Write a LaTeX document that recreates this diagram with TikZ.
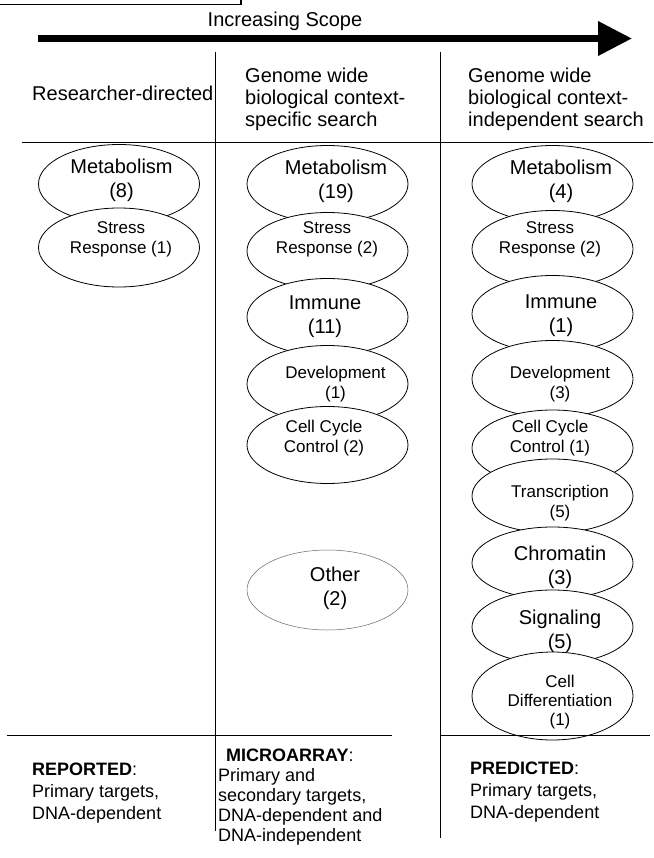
\documentclass[tikz,border=0pt]{standalone}
\usepackage{fontspec}
\setmainfont{Liberation Sans}
\usetikzlibrary{arrows.meta,shapes.geometric}
\begin{document}
\begin{tikzpicture}[x=1pt,y=-1pt,
  ell/.style={ellipse,draw,fill=white,line width=0.8pt,minimum width=161pt,minimum height=#1,inner sep=0pt},
  ell/.default=77pt,
  faint/.style={draw=black!60,line width=0.5pt},
  big/.style={font=\fontsize{20}{24}\selectfont,align=center,inner sep=0pt},
  small/.style={font=\fontsize{17}{20}\selectfont,align=center,inner sep=0pt},
  hdr/.style={font=\fontsize{20}{22}\selectfont,align=left,inner sep=0pt,anchor=west},
  foot/.style={font=\fontsize{18}{22}\selectfont,align=left,inner sep=0pt,anchor=west},
  rule/.style={line width=1pt}]
\useasboundingbox (0,0) rectangle (653,858);

% partial frame at top left
\coordinate (fa) at (-3,4.5);
\coordinate (fb) at (241,4.5);
\coordinate (fc) at (241,-3);
\draw[line width=1.5pt] (fa) -- (fb) -- (fc);

% scope arrow
\node[font=\fontsize{20}{22}\selectfont,inner sep=0pt,anchor=base] (scope) at (285,27) {Increasing Scope};
\coordinate (as) at (38,38.5);
\coordinate (ae) at (632,38.5);
\draw[line width=7pt,-{Triangle[length=34pt,width=33pt]}] (as) -- (ae);

% headers
\node[hdr,anchor=base west] (hL) at (32,101) {Researcher-directed};
\node[hdr] (hM) at (245,99) {Genome wide\\biological context-\\specific search};
\node[hdr] (hR) at (468,99) {Genome wide\\biological context-\\independent search};

% left column
\node[ell=79pt] (lMet) at (119,184) {};
\node[big] (lMetT) at (121.5,180) {Metabolism\\(8)};
\node[ell=79pt] (lStr) at (119,247.5) {};
\node[small] (lStrT) at (121,239) {Stress\\Response (1)};

% middle column
\node[ell] (mMet) at (327.5,184) {};
\node[big] (mMetT) at (336,181) {Metabolism\\(19)};
\node[ell] (mStr) at (327.5,251) {};
\node[small] (mStrT) at (327,239) {Stress\\Response (2)};
\node[ell] (mImm) at (327.5,317) {};
\node[big] (mImmT) at (325,316.5) {Immune\\(11)};
\node[ell] (mDev) at (327.5,384) {};
\node[small] (mDevT) at (335.5,384) {Development\\(1)};
\node[ell] (mCcc) at (327.5,445) {};
\node[small] (mCccT) at (324,438.5) {Cell Cycle\\Control (2)};
\node[ell=80pt,faint] (mOth) at (327.5,590) {};
\node[big] (mOthT) at (335,588) {Other\\(2)};

% right column
\node[ell] (rMet) at (552.5,184) {};
\node[big] (rMetT) at (561,181) {Metabolism\\(4)};
\node[ell] (rStr) at (552.5,249) {};
\node[small] (rStrT) at (550,239) {Stress\\Response (2)};
\node[ell] (rImm) at (552.5,314) {};
\node[big] (rImmT) at (561,315.5) {Immune\\(1)};
\node[ell] (rDev) at (552.5,379) {};
\node[small] (rDevT) at (560,384) {Development\\(3)};
\node[ell=76pt] (rCcc) at (552.5,448) {};
\node[small] (rCccT) at (550,438.5) {Cell Cycle\\Control (1)};
\node[ell=74pt] (rTra) at (552.5,496) {};
\node[small] (rTraT) at (560,503) {Transcription\\(5)};
\node[ell=72pt] (rChr) at (552.5,563) {};
\node[big] (rChrT) at (560,567) {Chromatin\\(3)};
\node[ell=74pt] (rSig) at (552.5,627) {};
\node[big] (rSigT) at (560,631) {Signaling\\(5)};
\node[ell=88pt] (rCdf) at (552.5,696) {};
\node[small,font=\fontsize{17}{19}\selectfont] (rCdfT) at (560,702) {Cell\\Differentiation\\(1)};

% grid lines
\coordinate (v1t) at (215.5,52);
\coordinate (v1b) at (215.5,831);
\coordinate (v2t) at (440,52);
\coordinate (v2b) at (440,838);
\draw[rule] (v1t) -- (v1b);
\draw[rule] (v2t) -- (v2b);
\coordinate (h1a) at (22,143);
\coordinate (h1b) at (653,143);
\draw[rule] (h1a) -- (h1b);
\coordinate (h2a) at (7,735);
\coordinate (h2b) at (392,735);
\coordinate (h2c) at (440,735);
\coordinate (h2d) at (650,735);
\draw[rule] (h2a) -- (h2b);
\draw[rule] (h2c) -- (h2d);

% footers
\node[foot] (fL) at (32,793.5) {\textbf{REPORTED}:\\Primary targets,\\DNA-dependent};
\node[foot,font=\fontsize{18}{20}\selectfont] (fM) at (218,797) {\hspace*{8pt}\textbf{MICROARRAY}:\\Primary and\\secondary targets,\\DNA-dependent and\\DNA-independent};
\node[foot] (fR) at (470,792) {\textbf{PREDICTED}:\\Primary targets,\\DNA-dependent};
\end{tikzpicture}
\end{document}
